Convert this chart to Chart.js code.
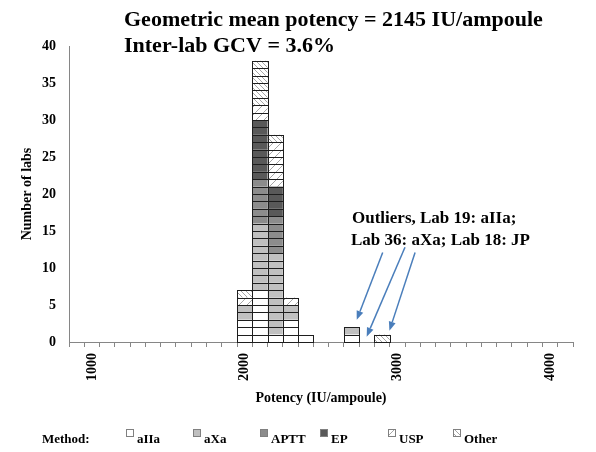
<!DOCTYPE html>
<html>
<head>
<meta charset="utf-8">
<script src="https://cdn.jsdelivr.net/npm/chart.js@4.4.0/dist/chart.umd.min.js"></script>
<style>
  html, body { margin: 0; padding: 0; background: #fff; }
  #wrap { width: 596px; height: 452px; }
</style>
</head>
<body>
<div id="wrap"><canvas id="potencyChart" width="596" height="452"></canvas></div>
<script>
// Potency bins (IU/ampoule), one category per 100 IU
const categories = [900, 1000, 1100, 1200, 1300, 1400, 1500, 1600, 1700, 1800, 1900,
  2000, 2100, 2200, 2300, 2400, 2500, 2600, 2700, 2800, 2900, 3000,
  3100, 3200, 3300, 3400, 3500, 3600, 3700, 3800, 3900, 4000, 4100];
const xTickLabels = [1000, 2000, 3000, 4000];
const yTicks = [0, 5, 10, 15, 20, 25, 30, 35, 40];

// Number of labs per bin, by method
const countedBins = [2000, 2100, 2200, 2300, 2400, 2700, 2900];
const aIIa  = [3, 7, 1, 3, 1, 1, 0];
const aXa   = [2, 9, 11, 2, 0, 1, 0];
const aptt  = [0, 6, 5, 0, 0, 0, 0];
const ep    = [0, 8, 4, 0, 0, 0, 0];
const usp   = [1, 2, 6, 1, 0, 0, 0];
const other = [1, 6, 1, 0, 0, 0, 1];
const methodNames = ["aIIa", "aXa", "APTT", "EP", "USP", "Other"];
const methodCounts = [aIIa, aXa, aptt, ep, usp, other];

const FONT = "'Liberation Serif', 'Times New Roman', serif";
Chart.defaults.font.family = FONT;
Chart.defaults.color = "#000";

// hatch fills
function hatch(size, dir, color) {
  const c = document.createElement("canvas");
  c.width = size; c.height = size;
  const g = c.getContext("2d");
  g.fillStyle = "#fff";
  g.fillRect(0, 0, size, size);
  g.strokeStyle = color;
  g.lineWidth = 1;
  g.beginPath();
  if (dir === "/") {
    g.moveTo(0, size); g.lineTo(size, 0);
    g.moveTo(-1, 1); g.lineTo(1, -1);
    g.moveTo(size - 1, size + 1); g.lineTo(size + 1, size - 1);
  } else {
    g.moveTo(0, 0); g.lineTo(size, size);
    g.moveTo(-1, size - 1); g.lineTo(1, size + 1);
    g.moveTo(size - 1, -1); g.lineTo(size + 1, 1);
  }
  g.stroke();
  return g.createPattern(c, "repeat");
}
const tmp = document.getElementById("potencyChart").getContext("2d");
const fills = ["#ffffff", "#c0c0c0", "#8c8c8c", "#595959", hatch(8, "/", "#a6a6a6"), hatch(5, "\\", "#a6a6a6")];

// one stacked dataset per lab "layer", so every lab is its own box
const datasets = [];
methodCounts.forEach((counts, m) => {
  const perCat = categories.map(c => {
    const k = countedBins.indexOf(c);
    return k < 0 ? 0 : counts[k];
  });
  const top = Math.max(...perCat);
  for (let level = 0; level < top; level++) {
    datasets.push({
      label: methodNames[m],
      data: perCat.map(n => (n > level ? 1 : null)),
      backgroundColor: fills[m],
      borderWidth: 0,
      inflateAmount: 0,
      categoryPercentage: 1,
      barPercentage: 1,
      stack: "labs",
    });
  }
});

// outline each lab box
const boxOutlines = {
  id: "boxOutlines",
  afterDatasetsDraw(chart) {
    const ctx = chart.ctx;
    ctx.save();
    ctx.strokeStyle = "#1e1e1e";
    ctx.lineWidth = 1;
    chart.data.datasets.forEach((ds, i) => {
      chart.getDatasetMeta(i).data.forEach((bar, j) => {
        if (ds.data[j] == null) return;
        const p = bar.getProps(["x", "y", "base", "width"], true);
        const l = Math.round(p.x - p.width / 2) + 0.5;
        const r = Math.round(p.x + p.width / 2) + 0.5;
        const t = Math.round(p.y) + 0.5;
        const b = Math.round(p.base) + 0.5;
        ctx.strokeRect(l, t, r - l, b - t);
      });
    });
    ctx.restore();
  },
};

// arrows to the outliers, in (category index, labs) units
const arrows = [
  { from: [20.04, 12.1], to: [18.34, 3.0] },
  { from: [21.5, 12.8], to: [18.99, 0.72] },
  { from: [22.16, 12.1], to: [20.48, 1.53] },
];
const legendX = [126, 193, 260, 320, 388, 453];

const extras = {
  id: "extras",
  afterDraw(chart) {
    const ctx = chart.ctx;
    const xs = chart.scales.x, ys = chart.scales.y;
    ctx.save();
    ctx.fillStyle = "#000";
    ctx.textAlign = "left";
    ctx.textBaseline = "alphabetic";
    ctx.font = "bold 22px " + FONT;
    ctx.fillText("Geometric mean potency = 2145 IU/ampoule", 124, 26);
    ctx.fillText("Inter-lab GCV = 3.6%", 124, 52);

    ctx.font = "bold 17px " + FONT;
    ctx.fillText("Outliers, Lab 19: aIIa;", 352, 223);
    ctx.fillText("Lab 36: aXa; Lab 18: JP", 351, 245);

    // arrows
    ctx.strokeStyle = "#4a7ebb";
    ctx.fillStyle = "#4a7ebb";
    ctx.lineWidth = 1.5;
    arrows.forEach(a => {
      const x1 = xs.getPixelForValue(a.from[0]), y1 = ys.getPixelForValue(a.from[1]);
      const x2 = xs.getPixelForValue(a.to[0]), y2 = ys.getPixelForValue(a.to[1]);
      const ang = Math.atan2(y2 - y1, x2 - x1);
      const hl = 9, hw = 3.5;
      const bx = x2 - hl * Math.cos(ang), by = y2 - hl * Math.sin(ang);
      ctx.beginPath();
      ctx.moveTo(x1, y1);
      ctx.lineTo(bx, by);
      ctx.stroke();
      ctx.beginPath();
      ctx.moveTo(x2, y2);
      ctx.lineTo(bx + hw * Math.sin(ang), by - hw * Math.cos(ang));
      ctx.lineTo(bx - hw * Math.sin(ang), by + hw * Math.cos(ang));
      ctx.closePath();
      ctx.fill();
    });

    // legend
    ctx.font = "bold 13px " + FONT;
    ctx.fillStyle = "#000";
    ctx.fillText("Method:", 42, 443);
    methodNames.forEach((name, i) => {
      const bx = legendX[i];
      ctx.fillStyle = fills[i];
      ctx.fillRect(bx, 429, 7, 7);
      ctx.strokeStyle = "#808080";
      ctx.lineWidth = 1;
      ctx.strokeRect(bx + 0.5, 429.5, 7, 7);
      ctx.fillStyle = "#000";
      ctx.fillText(name, bx + 11, 443);
    });
    ctx.restore();
  },
};

const ctx = document.getElementById("potencyChart").getContext("2d");
const potencyChart = new Chart(ctx, {
  type: "bar",
  data: { labels: categories, datasets: datasets },
  options: {
    responsive: false,
    animation: false,
    layout: { padding: { left: 0, right: 23, top: 46, bottom: 40 } },
    plugins: {
      legend: { display: false },
      title: { display: false },
      tooltip: { enabled: false },
    },
    scales: {
      x: {
        type: "category",
        stacked: true,
        offset: true,
        grid: { display: true, drawOnChartArea: false, drawTicks: true, tickLength: 5, color: "#868686", offset: true },
        border: { display: true, color: "#868686" },
        ticks: {
          autoSkip: false,
          minRotation: 90,
          maxRotation: 90,
          padding: 6,
          font: { size: 14, weight: "bold" },
          callback: function (v, i) {
            const c = categories[i];
            return xTickLabels.includes(c) ? String(c) : "";
          },
        },
        title: { display: true, text: "Potency (IU/ampoule)", font: { size: 14, weight: "bold" }, padding: { top: 0, bottom: 5 } },
        afterFit: function (s) { s.height = 70; },
      },
      y: {
        stacked: true,
        min: 0,
        max: 40,
        afterBuildTicks: function (s) { s.ticks = yTicks.map(v => ({ value: v })); },
        grid: { display: false, drawTicks: false },
        border: { display: true, color: "#868686" },
        ticks: { padding: 13, font: { size: 14, weight: "bold" } },
        title: { display: true, text: "Number of labs", font: { size: 14, weight: "bold" }, padding: { top: 19, bottom: 0 } },
        afterFit: function (s) { s.width = 69; },
      },
    },
  },
  plugins: [boxOutlines, extras],
});
</script>
</body>
</html>
